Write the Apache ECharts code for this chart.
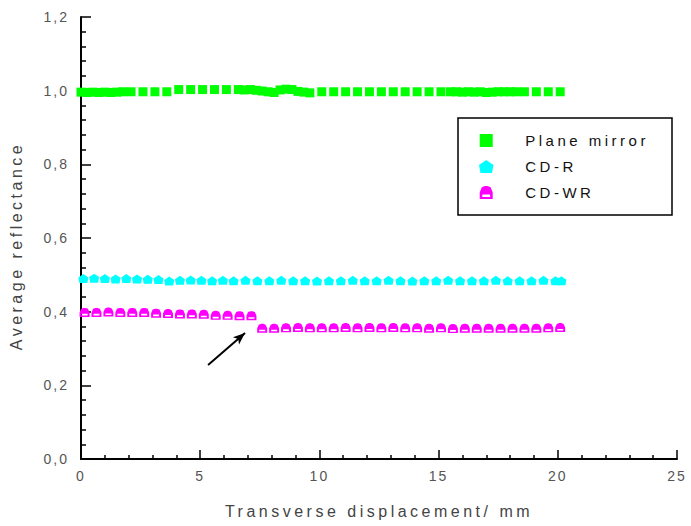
<!DOCTYPE html>
<html>
<head>
<meta charset="utf-8">
<script src="https://cdn.jsdelivr.net/npm/echarts@6/dist/echarts.min.js"></script>
<style>
  html, body { margin: 0; padding: 0; background: #fff; }
  #chart { width: 691px; height: 526px; }
  #chart svg text { letter-spacing: 2px; }
  #chart svg text[style*="15px"] { letter-spacing: 3.5px; }
  #chart svg text[style*="16px"] { letter-spacing: 3.5px; }
</style>
</head>
<body>
<div id="chart"></div>
<script>
// Average reflectance vs. transverse displacement for three surfaces.
const seriesNames = ['Plane mirror', 'CD-R', 'CD-WR'];

const mirrorX = [0, 0.25, 0.5, 0.75, 1.0, 1.25, 1.5, 1.75,
  2.1, 2.6, 3.1, 3.6, 4.1, 4.6, 5.1, 5.6, 6.1, 6.6,
  6.85, 7.1, 7.35, 7.6, 7.85, 8.1, 8.35, 8.6, 8.85, 9.1, 9.35, 9.6,
  10.1, 10.6, 11.1, 11.6, 12.1, 12.6, 13.1, 13.6, 14.1, 14.6, 15.1,
  15.5, 15.75, 16.0, 16.25, 16.5, 16.75, 17.0, 17.25, 17.5, 17.75, 18.0, 18.25,
  18.6, 19.1, 19.6, 20.1];
const mirrorY = [0.996, 0.995, 0.996, 0.995, 0.996, 0.995, 0.996, 0.997,
  0.997, 0.997, 0.997, 0.997, 1.003, 1.003, 1.003, 1.003, 1.003, 1.003,
  1.002, 1.003, 1.001, 0.999, 0.997, 0.995, 1.002, 1.004, 1.003, 0.998, 0.996, 0.994,
  0.997, 0.997, 0.997, 0.997, 0.997, 0.997, 0.997, 0.997, 0.997, 0.997, 0.997,
  0.997, 0.997, 0.996, 0.997, 0.996, 0.997, 0.995, 0.996, 0.997, 0.997, 0.997, 0.997,
  0.997, 0.997, 0.997, 0.997];

const cdrX = [0.1, 0.55, 1.0, 1.45, 1.9, 2.35, 2.8, 3.25, 3.7, 4.15, 4.6, 5.05, 5.5,
  5.95, 6.4, 6.9, 7.4, 7.9, 8.4, 8.9, 9.4, 9.9, 10.4, 10.9, 11.4, 11.9, 12.4, 12.9,
  13.4, 13.9, 14.4, 14.9, 15.4, 15.9, 16.4, 16.9, 17.4, 17.9, 18.4, 18.9, 19.4, 19.9, 20.15];
const cdrY = [0.490, 0.491, 0.490, 0.489, 0.490, 0.489, 0.488, 0.487, 0.483, 0.485, 0.486, 0.485, 0.484,
  0.485, 0.484, 0.485, 0.484, 0.484, 0.485, 0.484, 0.484, 0.483, 0.484, 0.484, 0.485, 0.484, 0.484, 0.485,
  0.484, 0.483, 0.484, 0.484, 0.485, 0.484, 0.484, 0.484, 0.485, 0.484, 0.484, 0.484, 0.485, 0.484, 0.484];

const cdwrX = [0.15, 0.65, 1.15, 1.65, 2.15, 2.65, 3.15, 3.65, 4.15, 4.65, 5.15, 5.65, 6.15, 6.65, 7.15,
  7.6, 8.1, 8.6, 9.1, 9.6, 10.1, 10.6, 11.1, 11.6, 12.1, 12.6, 13.1, 13.6, 14.1, 14.6,
  15.1, 15.6, 16.1, 16.6, 17.1, 17.6, 18.1, 18.6, 19.1, 19.6, 20.1];
const cdwrY = [0.398, 0.398, 0.399, 0.398, 0.398, 0.398, 0.396, 0.395, 0.394, 0.394, 0.393, 0.390, 0.390, 0.389, 0.389,
  0.355, 0.355, 0.356, 0.357, 0.356, 0.356, 0.356, 0.357, 0.356, 0.357, 0.356, 0.357, 0.356, 0.356, 0.355,
  0.356, 0.354, 0.355, 0.355, 0.355, 0.355, 0.355, 0.355, 0.355, 0.356, 0.357];

// Arrow marking the step in the CD-WR curve: [x, y] tail and head.
const arrowTail = [5.33, 0.255];
const arrowHead = [6.88, 0.342];

const xTicks = { min: 0, max: 25, interval: 5 };
const yTicks = { min: 0, max: 1.2, interval: 0.2 };

const square = 'path://M0,0 L10,0 L10,10 L0,10 Z';
const pentagon = 'path://M5,0 L10,3.4 L9,9 L1,9 L0,3.4 Z';
// filled upper half, hollow lower half
const halfFilled = 'path://M0,5 L1.6,1 L4,0 L6,0 L8.4,1 L10,5 Z M0,5 L10,5 L10,10 L0,10 Z M2,6.6 L2,8.4 L8,8.4 L8,6.6 Z';

const zip = (xs, ys) => xs.map((x, i) => [x, ys[i]]);
const comma = (v, d) => v.toFixed(d).replace('.', ',');

const chart = echarts.init(document.getElementById('chart'), null, { renderer: 'svg' });

chart.setOption({
  animation: false,
  backgroundColor: '#fff',
  grid: { left: 81, right: 14, top: 17, bottom: 67, containLabel: false },
  xAxis: {
    type: 'value',
    min: xTicks.min, max: xTicks.max, interval: xTicks.interval,
    name: 'Transverse displacement/ mm',
    nameLocation: 'middle',
    nameGap: 44,
    nameTextStyle: { color: '#444', fontSize: 16, fontFamily: 'Liberation Sans' },
    axisLine: { show: true, onZero: false, lineStyle: { color: '#000', width: 2 } },
    axisTick: { show: true, inside: true, length: 9, lineStyle: { color: '#000', width: 1.5 } },
    minorTick: { show: true, splitNumber: 5, length: 4, lineStyle: { color: '#000', width: 1.5 } },
    splitLine: { show: false },
    axisLabel: { color: '#555', fontSize: 14, fontFamily: 'Liberation Sans', margin: 10,
      formatter: v => String(v) }
  },
  yAxis: {
    type: 'value',
    min: yTicks.min, max: yTicks.max, interval: yTicks.interval,
    name: 'Average reflectance',
    nameLocation: 'middle',
    nameGap: 57,
    nameTextStyle: { color: '#444', fontSize: 16, fontFamily: 'Liberation Sans', padding: [0, 16, 0, 0] },
    axisLine: { show: true, onZero: false, lineStyle: { color: '#000', width: 2 } },
    axisTick: { show: true, inside: true, length: 10, lineStyle: { color: '#000', width: 1.5 } },
    minorTick: { show: true, splitNumber: 5, length: 5, lineStyle: { color: '#000', width: 1.5 } },
    splitLine: { show: false },
    axisLabel: { color: '#555', fontSize: 14, fontFamily: 'Liberation Sans', margin: 12,
      formatter: v => comma(v, 1) }
  },
  legend: {
    orient: 'vertical',
    left: 479, top: 133,
    itemWidth: 68, itemHeight: 13,
    itemGap: 11,
    padding: 0,
    data: seriesNames,
    textStyle: { color: '#111', fontSize: 15, fontFamily: 'Liberation Sans', lineHeight: 13 }
  },
  graphic: [{
    type: 'rect',
    shape: { x: 458, y: 118, width: 214, height: 97 },
    style: { fill: 'none', stroke: '#000', lineWidth: 1.5 },
    silent: true
  }],
  series: [
    {
      name: seriesNames[0], type: 'scatter',
      symbol: square, symbolSize: 9,
      itemStyle: { color: '#00ff00', opacity: 1 },
      data: zip(mirrorX, mirrorY)
    },
    {
      name: seriesNames[1], type: 'scatter',
      symbol: pentagon, symbolSize: [10, 9],
      itemStyle: { color: '#00ffff', opacity: 1 },
      data: zip(cdrX, cdrY)
    },
    {
      name: seriesNames[2], type: 'scatter',
      symbol: halfFilled, symbolSize: [10, 9],
      itemStyle: { color: '#ff00ff', opacity: 1 },
      data: zip(cdwrX, cdwrY),
      markLine: {
        silent: true,
        animation: false,
        symbol: ['none', 'arrow'],
        symbolSize: [7, 12],
        label: { show: false },
        lineStyle: { color: '#000', width: 2, type: 'solid' },
        data: [[{ coord: arrowTail }, { coord: arrowHead }]]
      }
    }
  ]
});
</script>
</body>
</html>
